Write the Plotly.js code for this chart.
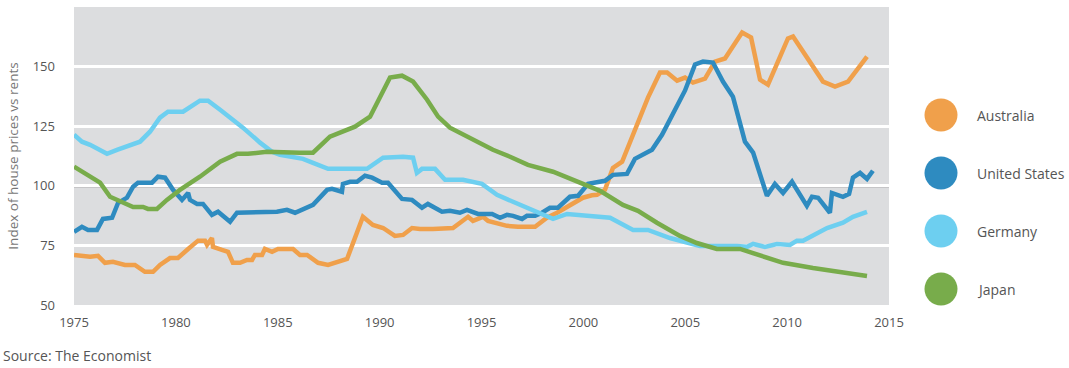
<!DOCTYPE html>
<html>
<head>
<meta charset="utf-8">
<script src="https://cdn.plot.ly/plotly-3.0.1.min.js"></script>
<style>
html,body{margin:0;padding:0;background:#fff;}
#chart{width:1069px;height:368px;}
</style>
</head>
<body>
<div id="chart"></div>
<script>
// ---- Data ----
const seriesNames = ["Australia", "United States", "Germany", "Japan"];
const seriesColors = ["#f0a04b", "#2e8bc0", "#6dcff0", "#78ac4b"];

const auYears = [1975.0,1975.79,1976.18,1976.52,1976.91,1977.5,1977.99,1978.48,1978.88,1979.22,1979.71,1980.1,1980.6,1981.09,1981.43,1981.53,1981.77,1981.82,1982.26,1982.56,1982.8,1983.15,1983.49,1983.74,1983.88,1984.23,1984.37,1984.72,1985.01,1985.75,1986.09,1986.44,1986.98,1987.47,1988.4,1989.18,1989.67,1990.17,1990.75,1991.15,1991.59,1991.98,1992.62,1993.11,1993.6,1994.34,1994.58,1995.07,1995.32,1996.25,1996.79,1997.63,1998.21,1998.71,1999.34,1999.98,2000.42,2000.67,2001.06,2001.45,2001.9,2002.29,2002.68,2003.17,2003.76,2004.11,2004.6,2004.99,2005.38,2005.97,2006.46,2006.95,2007.79,2008.23,2008.67,2009.06,2010.04,2010.29,2011.76,2012.35,2012.99,2013.92];
const auValues = [71,70.2,70.6,67.7,68.1,66.8,66.8,63.9,63.9,66.8,69.7,69.7,73.5,77,77,75.2,78.1,74.4,73.1,72.3,67.7,67.7,68.9,68.9,71,71,73.5,72.3,73.5,73.5,71,71,67.7,66.8,69.3,87,83.6,82.3,79,79.4,82.3,81.9,81.9,82.3,82.3,87,85.3,87,85.3,83.2,82.8,82.8,86.6,88.7,92,95,96,96.2,98.3,107.5,110.1,118.1,126.5,137,147.5,147.5,144.1,145.4,143.3,145,152.1,153.4,164.3,162.2,144.5,142.4,161.8,162.6,143.7,141.6,143.7,154.2];

const usYears = [1975.0,1975.39,1975.69,1976.13,1976.42,1976.87,1977.16,1977.6,1977.9,1978.14,1978.83,1979.12,1979.47,1979.86,1980.3,1980.55,1980.6,1980.69,1981.04,1981.33,1981.77,1982.07,1982.66,1983.0,1983.49,1983.88,1984.23,1984.96,1985.45,1985.85,1986.73,1987.42,1987.66,1988.15,1988.2,1988.55,1988.89,1989.28,1989.63,1990.12,1990.41,1991.1,1991.59,1992.08,1992.37,1993.06,1993.45,1993.94,1994.29,1994.83,1995.52,1995.91,1996.25,1996.55,1996.99,1997.23,1997.63,1997.97,1998.36,1998.75,1999.34,1999.74,2000.23,2000.47,2001.06,2001.45,2002.14,2002.53,2003.17,2003.37,2003.86,2004.4,2004.99,2005.48,2005.87,2006.36,2006.85,2007.34,2007.93,2008.33,2009.01,2009.4,2009.8,2010.24,2010.97,2011.22,2011.52,2012.1,2012.2,2012.74,2013.04,2013.23,2013.58,2013.92,2014.21];
const usValues = [80.7,82.8,81.5,81.5,86.1,86.6,92.8,95,99.6,101.3,101.3,103.8,103.4,98.3,94.1,96.2,97,94.1,92.4,92.4,87.8,89.1,84.9,88.7,88.7,88.7,89.1,89.1,89.9,88.7,92,98.3,98.7,97.5,100.8,101.7,101.7,104.2,103.4,101.3,101.3,94.5,94.1,90.8,92.4,89.1,89.5,88.7,89.9,88.2,88.2,86.6,87.8,87.4,86.1,87.4,87.4,88.7,90.8,90.8,95.4,95.8,100.8,101.3,102.1,104.6,105,111.3,113.9,115.1,121.4,130.7,140,150.9,152.1,151.7,143.7,137.4,118.5,113.9,95.8,100.8,97,101.7,91.6,95.4,95,88.7,97,95.4,96.6,103.4,105.4,102.9,106.3];

const deYears = [1975.0,1975.39,1975.79,1976.18,1976.62,1977.11,1977.6,1978.24,1978.73,1979.22,1979.61,1980.35,1981.18,1981.58,1982.17,1982.8,1983.29,1984.13,1984.72,1985.11,1986.24,1986.73,1987.47,1989.38,1990.17,1991.15,1991.64,1991.83,1992.08,1992.72,1993.21,1994.09,1995.02,1995.76,1996.55,1997.53,1998.51,1999.2,1999.83,2000.47,2001.31,2002.44,2003.17,2004.25,2005.72,2007.54,2008.03,2008.33,2008.91,2009.5,2010.14,2010.48,2010.78,2011.96,2012.74,2013.23,2013.92];
const deValues = [121.4,118.5,117.2,115.5,113.4,115.1,116.4,118.5,122.7,128.6,131.1,131.1,135.7,135.7,131.9,127.7,124.4,118.1,114.3,113,111.3,109.6,107.1,107.1,111.8,112.2,111.8,105.4,107.1,107.1,102.5,102.5,100.8,96.2,93.3,89.9,86.1,88.2,87.8,87,86.6,81.5,81.5,78.1,74.8,74.8,74.4,75.6,74.4,75.6,75.2,77,77,82.3,84.5,87,89.1];

const jpYears = [1975.0,1975.64,1976.28,1976.77,1977.4,1977.9,1978.39,1978.63,1979.07,1979.56,1980.2,1981.18,1982.17,1983.0,1983.54,1984.47,1986.09,1986.73,1987.56,1988.79,1989.53,1990.02,1990.51,1991.1,1991.64,1992.33,1992.87,1993.45,1994.29,1995.56,1996.4,1997.28,1998.51,1999.69,2000.82,2001.94,2002.68,2003.61,2004.74,2005.57,2006.55,2007.69,2008.82,2009.8,2011.27,2012.45,2013.92];
const jpValues = [108,104.6,101.3,95.4,92.8,91.1,91.1,90.3,90.3,94.1,98.3,103.8,110.1,113.4,113.4,114.3,113.9,113.9,120.6,124.8,129,137,145.4,146.2,143.7,136.1,129,124.4,120.6,115.1,112.2,108.8,105.9,101.7,97.9,92,89.5,84.5,79,76,73.5,73.5,70.6,67.7,65.5,63.9,62.2];

const xTickVals = [1975, 1980, 1985, 1990, 1995, 2000, 2005, 2010, 2015];
const yTickVals = [50, 75, 100, 125, 150];
const baseline = 100;

const yTitle = "Index of house prices vs rents";
const sourceText = "Source: The Economist";

// ---- Layout geometry ----
const W = 1069, H = 368;
const M = {l: 74, r: 180, t: 7, b: 63};
const plotW = W - M.l - M.r, plotH = H - M.t - M.b;
const px2paperX = px => (px - M.l) / plotW;
const px2paperY = py => (H - M.b - py) / plotH;

const xs = [auYears, usYears, deYears, jpYears];
const ys = [auValues, usValues, deValues, jpValues];

const traces = seriesNames.map((name, i) => ({
  type: "scatter", mode: "lines", name: name,
  x: xs[i], y: ys[i],
  line: {color: seriesColors[i], width: 4.5, shape: "linear"},
  hoverinfo: "x+y+name"
}));

const textColor = "#555555";
const fontFam = "'Open Sans', 'Noto Sans', sans-serif";

const shapes = [{
  type: "line", xref: "paper", x0: 0, x1: 1, yref: "y", y0: baseline, y1: baseline,
  line: {color: "#7f7f7f", width: 3}, layer: "between"
}];
const annotations = [{
  xref: "paper", yref: "paper", x: px2paperX(1), y: px2paperY(355),
  xanchor: "left", yanchor: "middle", showarrow: false,
  text: sourceText, font: {family: fontFam, size: 14, color: textColor}
}];

const legendY = [115, 173, 231, 289];
seriesNames.forEach((name, i) => {
  const cx = px2paperX(941), cy = px2paperY(legendY[i]);
  shapes.push({
    type: "circle", xref: "paper", yref: "paper",
    xsizemode: "pixel", ysizemode: "pixel",
    xanchor: cx, yanchor: cy,
    x0: -16.5, x1: 16.5, y0: -16.5, y1: 16.5,
    fillcolor: seriesColors[i], line: {width: 0}, layer: "above"
  });
  annotations.push({
    xref: "paper", yref: "paper", x: px2paperX(975), y: cy,
    xanchor: "left", yanchor: "middle", showarrow: false,
    text: name, font: {family: fontFam, size: 14, color: textColor}
  });
});

const layout = {
  width: W, height: H,
  margin: M,
  paper_bgcolor: "#ffffff",
  plot_bgcolor: "#dcdddf",
  showlegend: false,
  font: {family: fontFam, size: 13, color: textColor},
  xaxis: {
    range: [1975, 2015], tickvals: xTickVals, ticktext: xTickVals.map(String),
    showgrid: false, zeroline: false, showline: false, ticks: "",
    ticklabelstandoff: 8,
    tickfont: {family: fontFam, size: 13, color: textColor}
  },
  yaxis: {
    range: [50, 175], tickvals: yTickVals,
    showgrid: true, gridcolor: "#ffffff", gridwidth: 3,
    zeroline: false, showline: false, ticks: "",
    ticklabelstandoff: 18,
    tickfont: {family: fontFam, size: 13, color: textColor},
    title: {text: yTitle, font: {family: fontFam, size: 13.5, color: "#777777"}, standoff: 10}
  },
  shapes: shapes,
  annotations: annotations
};

Plotly.newPlot("chart", traces, layout, {displayModeBar: false, staticPlot: true});
</script>
</body>
</html>
